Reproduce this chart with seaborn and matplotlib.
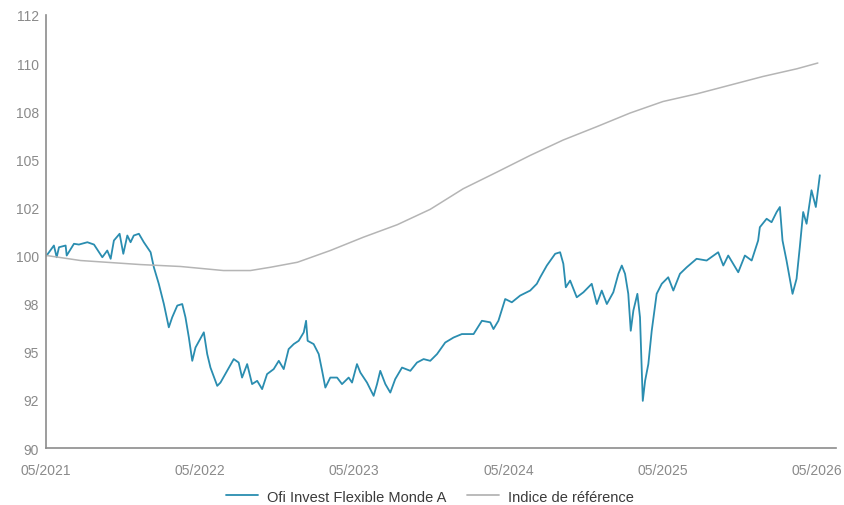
import pandas as pd
import numpy as np
import seaborn as sns
import matplotlib.pyplot as plt
import matplotlib.dates as mdates
from matplotlib.ticker import FixedLocator, FuncFormatter

# fund series, time
fund_t = [2021.333, 2021.380, 2021.398, 2021.413, 2021.456, 2021.463, 2021.510, 2021.542, 2021.597, 2021.640,
          2021.694, 2021.726, 2021.748, 2021.769, 2021.806, 2021.830, 2021.856, 2021.877, 2021.898, 2021.931,
          2021.963, 2022.007, 2022.028, 2022.060, 2022.093, 2022.125, 2022.147, 2022.180, 2022.212, 2022.233,
          2022.255, 2022.277, 2022.298, 2022.352, 2022.374, 2022.395, 2022.439, 2022.460, 2022.503, 2022.546,
          2022.578, 2022.600, 2022.633, 2022.665, 2022.698, 2022.730, 2022.762, 2022.805, 2022.838, 2022.870,
          2022.902, 2022.935, 2022.967, 2023.000, 2023.015, 2023.025, 2023.064, 2023.097, 2023.119, 2023.140,
          2023.172, 2023.216, 2023.248, 2023.291, 2023.313, 2023.345, 2023.367, 2023.410, 2023.453, 2023.475,
          2023.496, 2023.529, 2023.561, 2023.593, 2023.637, 2023.691, 2023.734, 2023.777, 2023.820, 2023.864,
          2023.917, 2023.971, 2024.025, 2024.101, 2024.155, 2024.209, 2024.230, 2024.262, 2024.306, 2024.349,
          2024.403, 2024.468, 2024.511, 2024.533, 2024.576, 2024.630, 2024.662, 2024.683, 2024.699, 2024.727,
          2024.770, 2024.813, 2024.867, 2024.900, 2024.932, 2024.965, 2025.007, 2025.040, 2025.062, 2025.083,
          2025.104, 2025.120, 2025.137, 2025.163, 2025.180, 2025.198, 2025.213, 2025.234, 2025.256, 2025.288,
          2025.321, 2025.363, 2025.396, 2025.439, 2025.483, 2025.547, 2025.612, 2025.687, 2025.720, 2025.752,
          2025.817, 2025.860, 2025.904, 2025.946, 2025.957, 2026.001, 2026.033, 2026.066, 2026.087, 2026.104,
          2026.130, 2026.169, 2026.195, 2026.216, 2026.238, 2026.260, 2026.292, 2026.320, 2026.346]
fund_v = [100.00, 100.52, 99.91, 100.43, 100.52, 100.00, 100.61, 100.57, 100.69, 100.57,
          99.91, 100.26, 99.83, 100.78, 101.13, 100.09, 101.04, 100.69, 101.04, 101.13,
          100.69, 100.17, 99.39, 98.53, 97.48, 96.27, 96.79, 97.40, 97.48, 96.79,
          95.74, 94.53, 95.22, 96.01, 94.88, 94.18, 93.23, 93.40, 94.01, 94.62,
          94.44, 93.66, 94.36, 93.32, 93.49, 93.06, 93.84, 94.10, 94.53, 94.10,
          95.14, 95.40, 95.57, 96.01, 96.61, 95.57, 95.40, 94.88, 94.01, 93.14,
          93.66, 93.66, 93.32, 93.66, 93.40, 94.36, 93.92, 93.40, 92.71, 93.32,
          94.01, 93.32, 92.88, 93.58, 94.18, 94.01, 94.44, 94.62, 94.53, 94.88,
          95.48, 95.74, 95.92, 95.92, 96.61, 96.53, 96.18, 96.61, 97.74, 97.57,
          97.92, 98.18, 98.53, 98.87, 99.48, 100.09, 100.17, 99.57, 98.35, 98.70,
          97.83, 98.09, 98.53, 97.48, 98.18, 97.48, 98.09, 99.05, 99.48, 99.05,
          98.01, 96.09, 97.14, 98.01, 96.79, 92.45, 93.49, 94.36, 96.09, 98.01,
          98.53, 98.87, 98.18, 99.05, 99.39, 99.83, 99.74, 100.17, 99.48, 100.00,
          99.13, 100.00, 99.74, 100.78, 101.47, 101.91, 101.73, 102.26, 102.52, 100.78,
          99.74, 98.01, 98.79, 100.43, 102.26, 101.65, 103.39, 102.52, 104.17]

# reference index
ref_t = [2021.333, 2021.553, 2021.942, 2022.201, 2022.479, 2022.654, 2022.784, 2022.959, 2023.172, 2023.386,
         2023.606, 2023.820, 2024.034, 2024.254, 2024.468, 2024.682, 2024.902, 2025.115, 2025.329, 2025.549,
         2025.763, 2025.977, 2026.197, 2026.333]
ref_v = [100.0, 99.74, 99.53, 99.43, 99.22, 99.22, 99.39, 99.65, 100.26, 100.95,
         101.6, 102.4, 103.47, 104.34, 105.2, 106.0, 106.7, 107.4, 108.0, 108.4,
         108.85, 109.3, 109.7, 110.0]

series_names = ['Ofi Invest Flexible Monde A', 'Indice de référence']
colors = ['#2a8db0', '#b5b5b5']
y_ticks = [90, 92.5, 95, 97.5, 100, 102.5, 105, 107.5, 110, 112.5]
x_ticks = ['2021-05-01', '2022-05-01', '2023-05-01', '2024-05-01', '2025-05-01', '2026-05-01']


def to_date(t):
    t = np.asarray(t)
    return pd.to_datetime('2021-01-01') + pd.to_timedelta((t - 2021) * 365.25, unit='D')


df = pd.concat([
    pd.DataFrame({'date': to_date(fund_t), 'value': fund_v, 'serie': series_names[0]}),
    pd.DataFrame({'date': to_date(ref_t), 'value': ref_v, 'serie': series_names[1]}),
])

sns.set_style('white')
plt.rcParams['font.family'] = ['Liberation Sans', 'DejaVu Sans']

fig = plt.figure(figsize=(8.45, 5.06), dpi=100)
ax = fig.add_axes([0.0544, 0.1126, 0.935, 0.856])

sns.lineplot(data=df, x='date', y='value', hue='serie', hue_order=series_names,
             palette=colors, linewidth=1.3, ax=ax, sort=False)
# the reference line is thinner in the original
ax.lines[1].set_linewidth(1.1)

ax.set_ylim(90, 112.5)
ax.set_xlim(pd.Timestamp('2021-05-01'), pd.Timestamp('2026-06-15'))
ax.yaxis.set_major_locator(FixedLocator(y_ticks))
ax.yaxis.set_major_formatter(FuncFormatter(lambda v, p: '{:.0f}'.format(v)))
ax.set_xticks(pd.to_datetime(x_ticks))
ax.xaxis.set_major_formatter(mdates.DateFormatter('%m/%Y'))
ax.tick_params(axis='both', length=0, labelsize=10, labelcolor='#8a8a8a')
ax.tick_params(axis='x', pad=11)
ax.tick_params(axis='y', pad=5)
ax.set_xlabel('')
ax.set_ylabel('')

sns.despine(ax=ax)
for s in ['left', 'bottom']:
    ax.spines[s].set_color('#8c8c8c')
    ax.spines[s].set_linewidth(1.2)

handles, labels = ax.get_legend_handles_labels()
ax.legend(handles, labels, loc='center', bbox_to_anchor=(0.486, -0.112), ncol=2,
          frameon=False, fontsize=10.5, handlelength=2.2, handletextpad=0.6,
          columnspacing=1.4, labelcolor='#3a3a3a')

fig.savefig('out.png', dpi=100)
